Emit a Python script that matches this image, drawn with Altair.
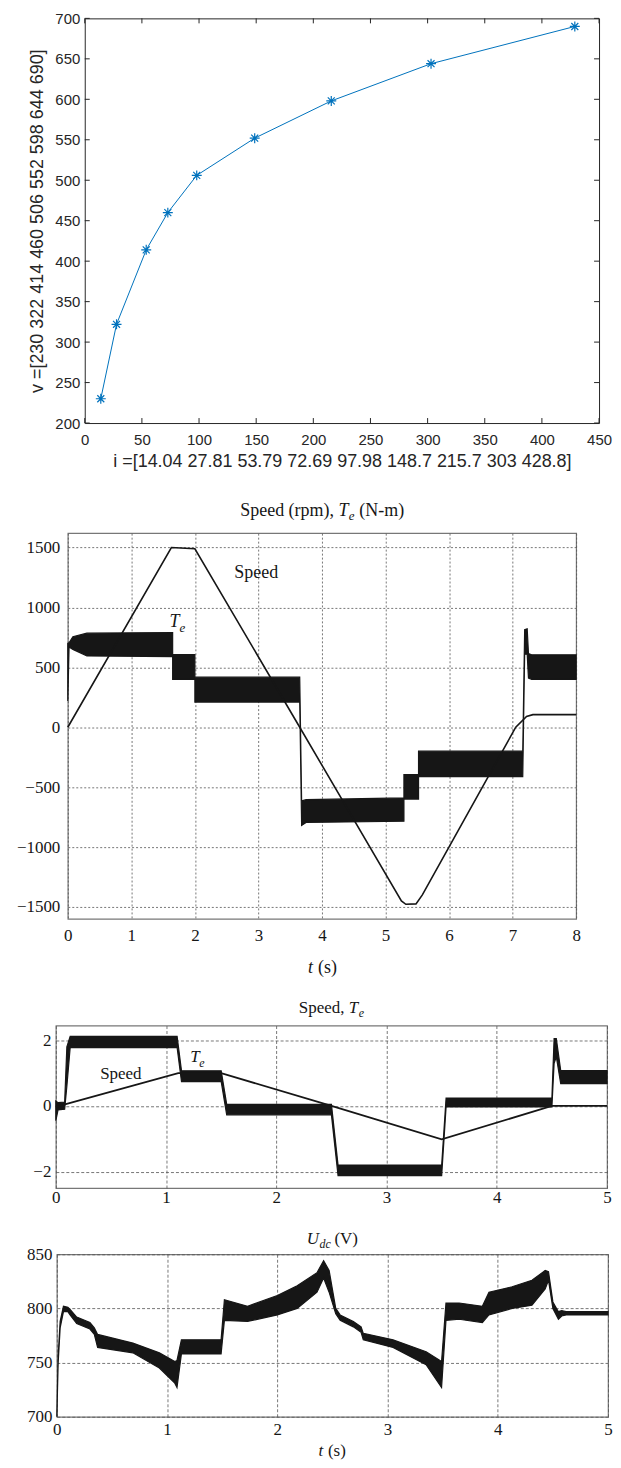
import altair as alt
import pandas as pd

# ---------------- Panel 1: v vs i ----------------
i_vals = [14.04, 27.81, 53.79, 72.69, 97.98, 148.7, 215.7, 303, 428.8]
v_vals = [230, 322, 414, 460, 506, 552, 598, 644, 690]
p1_xticks = [0, 50, 100, 150, 200, 250, 300, 350, 400, 450]
p1_yticks = [200, 250, 300, 350, 400, 450, 500, 550, 600, 650, 700]

# ---------------- Panel 2: Speed (rpm), Te (N-m) ----------------
p2_xticks = [0, 1, 2, 3, 4, 5, 6, 7, 8]
p2_yticks = [-1500, -1000, -500, 0, 500, 1000, 1500]
sp2_t = [0, 1.63, 2.0, 3.65, 5.25, 5.32, 5.48, 5.58, 7.05, 7.22, 7.32, 8.0]
sp2_v = [0, 1500, 1490, 0, -1450, -1478, -1475, -1400, 0, 90, 105, 105]
te2_t = [0.0, 0.02, 0.08, 0.3, 1.65, 1.65, 2.0, 2.0, 3.65, 3.68, 3.75, 5.29, 5.29,
         5.52, 5.52, 7.16, 7.19, 7.23, 7.25, 7.3, 8.0]
te2_lo = [220, 670, 650, 595, 590, 400, 400, 210, 210, -820, -795, -785, -600,
          -600, -412, -412, 610, 610, 410, 400, 400]
te2_hi = [700, 705, 755, 785, 790, 607, 607, 418, 418, -615, -605, -590, -395,
          -395, -200, -200, 815, 822, 615, 605, 605]

# ---------------- Panel 3: Speed, Te (p.u.) ----------------
p3_xticks = [0, 1, 2, 3, 4, 5]
p3_yticks = [-2, 0, 2]
sp3_t = [0, 1.11, 1.5, 2.5, 3.5, 4.5, 5.0]
sp3_v = [-0.03, 1.0, 1.0, 0.0, -1.02, 0.0, 0.0]
te3_t = [0.0, 0.02, 0.08, 0.1, 0.13, 1.1, 1.14, 1.5, 1.55, 2.5, 2.56, 3.5, 3.54,
         4.5, 4.52, 4.54, 4.58, 5.0]
te3_lo = [-0.45, -0.12, -0.1, 0.6, 1.78, 1.78, 0.74, 0.74, -0.27, -0.27, -2.12,
          -2.12, -0.03, -0.03, 1.3, 1.5, 0.68, 0.68]
te3_hi = [0.15, 0.1, 0.12, 1.8, 2.12, 2.12, 1.07, 1.07, 0.05, 0.05, -1.8, -1.8,
          0.24, 0.24, 2.05, 2.05, 1.08, 1.08]

# ---------------- Panel 4: Udc (V) ----------------
p4_xticks = [0, 1, 2, 3, 4, 5]
p4_yticks = [700, 750, 800, 850]
udc_t = [0.0, 0.012, 0.03, 0.06, 0.1, 0.12, 0.18, 0.3, 0.34, 0.37, 0.69, 0.93,
         1.07, 1.09, 1.13, 1.49, 1.52, 1.73, 2.0, 2.18, 2.36, 2.42, 2.47, 2.53,
         2.57, 2.69, 2.76, 2.78, 3.05, 3.35, 3.49, 3.53, 3.65, 3.86, 3.92, 4.13,
         4.31, 4.43, 4.46, 4.5, 4.55, 4.58, 4.62, 5.0]
udc_lo = [700, 750, 782, 797, 797, 794, 786, 781, 776, 764, 759, 745, 731, 727,
          758, 758, 789, 788, 794, 800, 815, 828, 815, 795, 789, 783, 778, 771,
          764, 748, 727, 789, 790, 787, 794, 800, 803, 818, 826, 800, 790, 793,
          794, 794]
udc_hi = [702, 756, 788, 802, 801, 799, 792, 787, 782, 776, 768, 759, 751, 752,
          771, 771, 808, 802, 812, 821, 833, 844, 835, 800, 794, 788, 783, 777,
          771, 760, 751, 805, 805, 802, 815, 820, 826, 835, 834, 806, 797, 798,
          797, 797]

# ---------------- styling ----------------
SANS = "Liberation Sans"
SERIF = "Liberation Serif"
MCOL = "#262626"
BLUE = "#0072BD"
INK = "#161616"
ASTERISK = "M-1,0L1,0M0,-1L0,1M-0.7,-0.7L0.7,0.7M-0.7,0.7L0.7,-0.7"

one = pd.DataFrame({"k": [0]})


def spacer(w):
    return alt.Chart(one).mark_rule(opacity=0, strokeWidth=0).encode(
        x=alt.value(1), y=alt.value(0), y2=alt.value(1)
    ).properties(width=w, height=1, view=alt.ViewBackground(strokeOpacity=0))


def label(text, x, y, size, italic=False, align="left"):
    return alt.Chart(one).mark_text(
        text=text, font=SERIF, fontSize=size, color=INK, align=align,
        baseline="middle", fontStyle="italic" if italic else "normal"
    ).encode(x=alt.value(x), y=alt.value(y))


# ================= Panel 1 =================
W1, H1 = 516, 406
df1 = pd.DataFrame({"i": i_vals, "v": v_vals})
ax1x = alt.Axis(values=p1_xticks, format="d", grid=False, ticks=False, domain=False,
                labelFont=SANS, labelFontSize=15, labelColor=MCOL, labelPadding=10,
                labelFlush=False, labelOverlap=False,
                title="i =[14.04 27.81 53.79 72.69 97.98 148.7 215.7 303 428.8]",
                titleFont=SANS, titleFontSize=18, titleFontWeight="normal",
                titleColor=MCOL, titlePadding=5)
ax1y = alt.Axis(values=p1_yticks, format="d", grid=False, ticks=False, domain=False,
                labelFont=SANS, labelFontSize=15, labelColor=MCOL, labelPadding=5,
                labelOverlap=False,
                title="v =[230 322 414 460 506 552 598 644 690]",
                titleFont=SANS, titleFontSize=18, titleFontWeight="normal",
                titleColor=MCOL, titlePadding=8)
x1s = alt.Scale(domain=[0, 450], nice=False)
y1s = alt.Scale(domain=[200, 700], nice=False)
X1 = alt.X("i:Q", scale=x1s, axis=ax1x)
Y1 = alt.Y("v:Q", scale=y1s, axis=ax1y)
line1 = alt.Chart(df1).mark_line(color=BLUE, strokeWidth=1).encode(x=X1, y=Y1)
pts1 = alt.Chart(df1).mark_point(shape=ASTERISK, size=100, filled=False, color=BLUE,
                                 strokeWidth=1.2, opacity=1).encode(x=X1, y=Y1)
xt1 = pd.DataFrame({"i": p1_xticks})
yt1 = pd.DataFrame({"v": p1_yticks})
tk_b = alt.Chart(xt1).mark_rule(color=MCOL, strokeWidth=1).encode(
    x=X1, y=alt.value(H1 - 5), y2=alt.value(H1))
tk_t = alt.Chart(xt1).mark_rule(color=MCOL, strokeWidth=1).encode(
    x=X1, y=alt.value(0), y2=alt.value(5))
tk_l = alt.Chart(yt1).mark_rule(color=MCOL, strokeWidth=1).encode(
    y=Y1, x=alt.value(0), x2=alt.value(5))
tk_r = alt.Chart(yt1).mark_rule(color=MCOL, strokeWidth=1).encode(
    y=Y1, x=alt.value(W1 - 5), x2=alt.value(W1))
panel1 = alt.layer(line1, pts1, tk_b, tk_t, tk_l, tk_r).properties(
    width=W1, height=H1, view=alt.ViewBackground(stroke=MCOL, strokeWidth=1))


# ================= helpers for scope panels =================
def grid_axis(values, pad, size, dash):
    return alt.Axis(values=values, format="d", grid=True, gridDash=dash, gridColor="#555",
                    gridWidth=0.8, ticks=False, domain=False, labelFont=SERIF,
                    labelFontSize=size, labelColor=INK, labelPadding=pad,
                    labelFlush=False, labelOverlap=False, title=None)


def scope_layers(xs, ys, axx, axy, bands, lines, annos):
    X = alt.X("t:Q", scale=xs, axis=axx)
    out = []
    for d in bands:
        out.append(alt.Chart(d).mark_area(color=INK, stroke=INK, strokeWidth=1.2,
                                          opacity=1).encode(
            x=X, y=alt.Y("lo:Q", scale=ys, axis=axy), y2="hi:Q"))
    for d, w in lines:
        out.append(alt.Chart(d).mark_line(color=INK, strokeWidth=w).encode(
            x=X, y=alt.Y("v:Q", scale=ys, axis=axy)))
    for d, txt, size, italic, dx, dy, align in annos:
        out.append(alt.Chart(d).mark_text(
            text=txt, font=SERIF, fontSize=size, color=INK, align=align, baseline="middle",
            fontStyle="italic" if italic else "normal", dx=dx, dy=dy).encode(
            x=X, y=alt.Y("v:Q", scale=ys, axis=axy)))
    return out


# ================= Panel 2 =================
W2, H2 = 510, 387
dsp2 = pd.DataFrame({"t": sp2_t, "v": sp2_v})
dte2 = pd.DataFrame({"t": te2_t, "lo": te2_lo, "hi": te2_hi})
ann2 = pd.DataFrame({"t": [2.62], "v": [1290]})
ann2_te = pd.DataFrame({"t": [1.6], "v": [880]})
d2 = [2, 2]
layers2 = scope_layers(
    alt.Scale(domain=[0, 8], nice=False), alt.Scale(domain=[-1600, 1620], nice=False),
    grid_axis(p2_xticks, 9, 17, d2), grid_axis(p2_yticks, 8, 17, d2),
    [dte2], [(dsp2, 1.6)],
    [(ann2, "Speed", 18, False, 0, 0, "left"),
     (ann2_te, "T", 18, True, 0, 0, "left"),
     (ann2_te, "e", 13, True, 10, 6, "left")])
c2 = W2 / 2
t2a = label("Speed (rpm),", c2 + 12, -22, 18, align="right")
t2b = label("T", c2 + 16.5, -22, 18, italic=True)
t2c = label("e", c2 + 27, -17, 13, italic=True)
t2d = label("(N-m)", c2 + 37.5, -22, 18)
xl2a = label("t", c2 - 14, H2 + 49.5, 18, italic=True)
xl2b = label("(s)", c2 - 4, H2 + 49.5, 18)
panel2 = alt.layer(*layers2, t2a, t2b, t2c, t2d, xl2a, xl2b).properties(
    width=W2, height=H2, view=alt.ViewBackground(stroke="#777", strokeWidth=1.2))

# ================= Panel 3 =================
W3, H3 = 553, 163
dsp3 = pd.DataFrame({"t": sp3_t, "v": sp3_v})
dte3 = pd.DataFrame({"t": te3_t, "lo": te3_lo, "hi": te3_hi})
ann3 = pd.DataFrame({"t": [0.59], "v": [0.98]})
ann3_te = pd.DataFrame({"t": [1.22], "v": [1.5]})
d3 = [3, 2]
layers3 = scope_layers(
    alt.Scale(domain=[0, 5], nice=False), alt.Scale(domain=[-2.5, 2.45], nice=False),
    grid_axis(p3_xticks, 2, 17, d3), grid_axis(p3_yticks, 5, 17, d3),
    [dte3], [(dsp3, 1.8)],
    [(ann3, "Speed", 17, False, 0, 0, "center"),
     (ann3_te, "T", 17, True, 0, 0, "left"),
     (ann3_te, "e", 12, True, 9, 6, "left")])
c3 = W3 / 2
t3a = label("Speed,", c3 + 13, -17.5, 17, align="right")
t3b = label("T", c3 + 17.5, -17.5, 17, italic=True)
t3c = label("e", c3 + 27.5, -12.5, 12, italic=True)
panel3 = alt.layer(*layers3, t3a, t3b, t3c).properties(
    width=W3, height=H3, view=alt.ViewBackground(stroke="#777", strokeWidth=1.2))

# ================= Panel 4 =================
W4, H4 = 553, 163
dudc = pd.DataFrame({"t": udc_t, "lo": udc_lo, "hi": udc_hi})
layers4 = scope_layers(
    alt.Scale(domain=[0, 5], nice=False), alt.Scale(domain=[700, 850], nice=False),
    grid_axis(p4_xticks, 5, 17, d3), grid_axis(p4_yticks, 5, 17, d3),
    [dudc], [], [])
c4 = W4 / 2
t4a = label("U", c4 - 25.7, -15, 17, italic=True)
t4b = label("dc", c4 - 13, -10, 12, italic=True)
t4c = label("(V)", c4 + 2, -15, 17)
xl4a = label("t", c4 - 14, H4 + 34.5, 17, italic=True)
xl4b = label("(s)", c4 - 4.5, H4 + 34.5, 17)
panel4 = alt.layer(*layers4, t4a, t4b, t4c, xl4a, xl4b).properties(
    width=W4, height=H4, view=alt.ViewBackground(stroke="#777", strokeWidth=1.2))

# ================= layout =================
row1 = alt.hconcat(spacer(20), panel1, spacing=0)
row2 = alt.hconcat(spacer(7), panel2, spacing=0)
row3 = alt.hconcat(spacer(24), panel3, spacing=0)
row4 = alt.hconcat(spacer(16.5), panel4, spacing=0)

chart = alt.vconcat(
    row1,
    alt.vconcat(
        row2,
        alt.vconcat(row3, row4, spacing=22.5),
        spacing=19),
    spacing=29.5,
).properties(padding=0).configure(background="white")

chart.save("out.html", embed_options={"renderer": "svg", "actions": False})
